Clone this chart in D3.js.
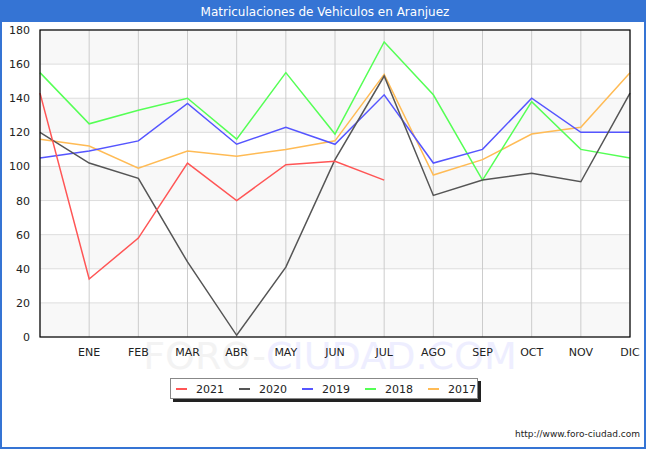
<!DOCTYPE html>
<html>
<head>
<meta charset="utf-8">
<script src="https://cdn.jsdelivr.net/npm/d3@7"></script>
<style>
  body { margin: 0; background: #fff; }
  svg { display: block; font-family: "DejaVu Sans", Verdana, sans-serif; }
</style>
</head>
<body>
<svg id="chart" width="650" height="450"></svg>
<script>
// months (first slot is the unlabeled start point)
const months = ["", "ENE", "FEB", "MAR", "ABR", "MAY", "JUN", "JUL", "AGO", "SEP", "OCT", "NOV", "DIC"];
const yTicks = [0, 20, 40, 60, 80, 100, 120, 140, 160, 180];

const v2021 = [143, 34, 58, 102, 80, 101, 103, 92];
const v2020 = [120, 102, 93, 44, 1, 41, 104, 153, 83, 92, 96, 91, 143];
const v2019 = [105, 109, 115, 137, 113, 123, 113, 142, 102, 110, 140, 120, 120];
const v2018 = [155, 125, 133, 140, 116, 155, 119, 173, 142, 92, 138, 110, 105];
const v2017 = [116, 112, 99, 109, 106, 110, 115, 154, 95, 104, 119, 123, 155];

const seriesNames = ["2021", "2020", "2019", "2018", "2017"];
const seriesVals = [v2021, v2020, v2019, v2018, v2017];
const colors = ["#ff5555", "#555555", "#5555ff", "#55ff55", "#ffbb55"];

const svg = d3.select("#chart");
const margin = {left: 40, right: 20, top: 30, bottom: 113};
const W = 650, H = 450;

// frame + title bar
svg.append("rect").attr("x", 1).attr("y", 1).attr("width", 644).attr("height", 447)
  .attr("fill", "#fff").attr("stroke", "#3574d4").attr("stroke-width", 2);
svg.append("rect").attr("x", 0).attr("y", 0).attr("width", 646).attr("height", 22).attr("fill", "#3574d4");
svg.append("text").attr("x", 325).attr("y", 15.5).attr("text-anchor", "middle")
  .attr("fill", "#fff").style("font-size", "12px").text("Matriculaciones de Vehiculos en Aranjuez");

const x = d3.scalePoint().domain(d3.range(months.length)).range([40, 630]);
const y = d3.scaleLinear().domain([0, 180]).range([337, 30]);

// watermark
const wm = svg.append("text").attr("x", 330).attr("y", 369).attr("text-anchor", "middle")
  .style("font-size", "38px");
wm.append("tspan").attr("fill", "#f3f3f3").text("FORO-");
wm.append("tspan").attr("fill", "#eeeeff").text("CIUDAD.COM");

// alternating bands
const g = svg.append("g");
for (let i = 0; i < yTicks.length - 1; i++) {
  g.append("rect").attr("x", 40).attr("width", 590)
    .attr("y", y(yTicks[i + 1])).attr("height", y(yTicks[i]) - y(yTicks[i + 1]))
    .attr("fill", i % 2 === 0 ? "#f8f8f8" : "#ffffff");
}
// grid
g.selectAll("line.hg").data(yTicks).join("line").attr("class", "hg")
  .attr("x1", 40).attr("x2", 630).attr("y1", d => y(d)).attr("y2", d => y(d))
  .attr("stroke", "#dddddd");
g.selectAll("line.vg").data(d3.range(months.length)).join("line").attr("class", "vg")
  .attr("x1", d => x(d)).attr("x2", d => x(d)).attr("y1", 30).attr("y2", 337)
  .attr("stroke", "#cccccc");

// lines (draw 2017 first so 2021 on top)
const line = d3.line().x((d, i) => x(i)).y(d => y(d));
for (let s = seriesVals.length - 1; s >= 0; s--) {
  g.append("path").datum(seriesVals[s]).attr("d", line)
    .attr("fill", "none").attr("stroke", colors[s]).attr("stroke-width", 1.5);
}

// plot border
g.append("rect").attr("x", 40).attr("y", 30).attr("width", 590).attr("height", 307)
  .attr("fill", "none").attr("stroke", "#000").attr("stroke-width", 1.2);

// axes labels
svg.selectAll("text.yl").data(yTicks).join("text").attr("class", "yl")
  .attr("x", 30).attr("y", d => y(d) + 4).attr("text-anchor", "end")
  .style("font-size", "11px").attr("fill", "#222").text(d => d);
svg.selectAll("text.xl").data(months).join("text").attr("class", "xl")
  .attr("x", (d, i) => x(i)).attr("y", 356).attr("text-anchor", "middle")
  .style("font-size", "11px").attr("fill", "#222").text(d => d);

// legend
const lg = svg.append("g");
lg.append("rect").attr("x", 173).attr("y", 381).attr("width", 308).attr("height", 21).attr("fill", "#222");
lg.append("rect").attr("x", 170.5).attr("y", 378.5).attr("width", 307).attr("height", 20)
  .attr("fill", "#fff").attr("stroke", "#888");
seriesNames.forEach((n, i) => {
  const lx = 176 + i * 63;
  lg.append("line").attr("x1", lx).attr("x2", lx + 11).attr("y1", 389).attr("y2", 389)
    .attr("stroke", colors[i]).attr("stroke-width", 2);
  lg.append("text").attr("x", lx + 20).attr("y", 393).style("font-size", "11px")
    .attr("fill", "#222").text(n);
});

svg.append("text").attr("x", 640).attr("y", 437).attr("text-anchor", "end")
  .style("font-size", "9px").attr("fill", "#222").text("http://www.foro-ciudad.com");
</script>
</body>
</html>
